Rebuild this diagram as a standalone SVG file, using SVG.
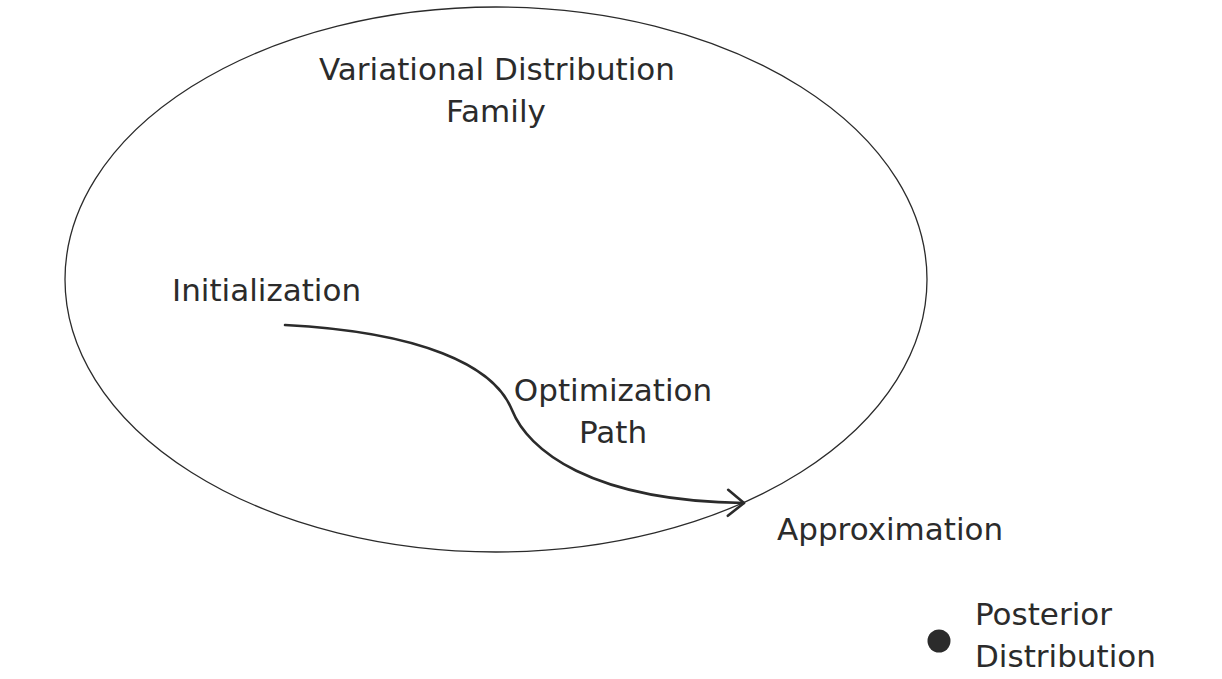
<svg xmlns="http://www.w3.org/2000/svg" width="1222" height="679" viewBox="0 0 1222 679">
  <defs>
    <style>
      .lbl { font-family: "DejaVu Sans", "Liberation Sans", sans-serif; font-size: 31px; fill: #2b2b2b; }
      .mid { text-anchor: middle; }
      .shape { fill: none; stroke: #2b2b2b; stroke-width: 1.3; }
      .conn { fill: none; stroke: #2b2b2b; stroke-width: 2.6; stroke-linecap: round; }
    </style>
    <marker id="arrow" markerUnits="userSpaceOnUse" markerWidth="30" markerHeight="34" viewBox="-20 -17 24 34" refX="0" refY="0" orient="auto">
      <path d="M-16,-13 L0,0 L-16,13" fill="none" stroke="#2b2b2b" stroke-width="2.6" stroke-linecap="round" stroke-linejoin="round"/>
    </marker>
  </defs>
  <rect width="1222" height="679" fill="#ffffff"/>

  <g id="family">
    <ellipse class="shape" cx="496" cy="279.5" rx="431" ry="272.5"/>
    <text class="lbl mid" x="497" y="80">Variational Distribution</text>
    <text class="lbl mid" x="496" y="122">Family</text>
  </g>

  <g id="initialization">
    <text class="lbl" x="172" y="301">Initialization</text>
  </g>

  <g id="approximation">
    <text class="lbl" x="777" y="540">Approximation</text>
  </g>

  <g id="posterior">
    <circle cx="939" cy="641" r="11.5" fill="#2b2b2b"/>
    <text class="lbl" x="975" y="625">Posterior</text>
    <text class="lbl" x="975" y="667">Distribution</text>
  </g>

  <g id="connectors">
    <path class="conn" d="M285,325 C420,332 494,365 512,410 C528,450 590,501 744,503" marker-end="url(#arrow)"/>
    <g id="path-label">
      <text class="lbl mid" x="613" y="401">Optimization</text>
      <text class="lbl mid" x="613" y="443">Path</text>
    </g>
  </g>
</svg>
